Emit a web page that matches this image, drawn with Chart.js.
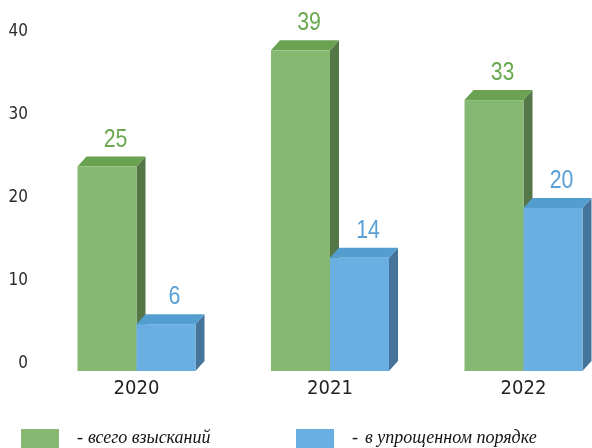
<!DOCTYPE html>
<html>
<head>
<meta charset="utf-8">
<script src="https://cdn.jsdelivr.net/npm/chart.js@4.4.1/dist/chart.umd.min.js"></script>
<style>
  body { margin: 0; background: #fff; }
</style>
</head>
<body>
<canvas id="myChart" width="592" height="448"></canvas>
<script>
// data
const years = ['2020', '2021', '2022']
const totalValues = [25, 39, 33]
const simpleValues = [6, 14, 20]
const seriesNames = ['всего взысканий', 'в упрощенном порядке']
const yTicks = [0, 10, 20, 30, 40]

const narrow = '"DejaVu Sans Condensed", "Liberation Sans", sans-serif'

// front / top / side colours for the fake 3d boxes
const faces = [
  { front: '#86b872', top: '#6aa251', side: '#557748', label: '#6aa84f' },
  { front: '#69afe1', top: '#539ed0', side: '#44749a', label: '#5aa0d6' }
]
const DX = 9   // depth, to the left
const DY = 10  // depth, downwards

const bars3d = {
  id: 'bars3d',
  afterDatasetsDraw(chart) {
    const ctx = chart.ctx
    chart.data.datasets.forEach((ds, di) => {
      const f = faces[di]
      chart.getDatasetMeta(di).data.forEach((bar, i) => {
        const { x, y, base, width } = bar.getProps(['x', 'y', 'base', 'width'], true)
        const l = x - width / 2
        const r = x + width / 2
        const floor = base + 7
        ctx.save()

        // side face
        ctx.fillStyle = f.side
        ctx.beginPath()
        ctx.moveTo(r - DX, y + DY)
        ctx.lineTo(r, y)
        ctx.lineTo(r, base - 3)
        ctx.lineTo(r - DX, floor)
        ctx.closePath()
        ctx.fill()

        // top face
        ctx.fillStyle = f.top
        ctx.beginPath()
        ctx.moveTo(l - DX, y + DY)
        ctx.lineTo(l, y)
        ctx.lineTo(r, y)
        ctx.lineTo(r - DX, y + DY)
        ctx.closePath()
        ctx.fill()

        // front face
        ctx.fillStyle = f.front
        ctx.fillRect(l - DX, y + DY, width, floor - y - DY)

        // value label, squeezed to look like a narrow face
        ctx.fillStyle = f.label
        ctx.font = '26px "Liberation Sans", Arial, sans-serif'
        ctx.textAlign = 'center'
        ctx.textBaseline = 'alphabetic'
        ctx.translate(x - 0.5, y - 10)
        ctx.scale(0.82, 1)
        ctx.fillText(String(ds.data[i].y), 0, 0)
        ctx.restore()
      })
    })
  }
}

// legend at the bottom, boxes partly cut off by the canvas edge
const legendBottom = {
  id: 'legendBottom',
  afterDraw(chart) {
    const ctx = chart.ctx
    const items = [
      { box: 21, dash: 77, text: 88 },
      { box: 296, dash: 352, text: 365 }
    ]
    ctx.save()
    items.forEach((it, i) => {
      ctx.fillStyle = faces[i].front
      ctx.fillRect(it.box, 429, 38, 22)
      ctx.fillStyle = '#151515'
      ctx.font = 'italic 18px "Liberation Serif", serif'
      ctx.textAlign = 'left'
      ctx.textBaseline = 'alphabetic'
      ctx.fillText('-', it.dash, 443)
      ctx.fillText(seriesNames[i], it.text, 443)
    })
    ctx.restore()
  }
}

new Chart(document.getElementById('myChart'), {
  type: 'bar',
  data: {
    datasets: [
      {
        label: seriesNames[0],
        data: totalValues.map((v, i) => ({ x: i, y: v })),
        backgroundColor: 'rgba(0,0,0,0)',
        barThickness: 59
      },
      {
        label: seriesNames[1],
        data: simpleValues.map((v, i) => ({ x: i, y: v })),
        backgroundColor: 'rgba(0,0,0,0)',
        barThickness: 59
      }
    ]
  },
  options: {
    responsive: false,
    animation: false,
    devicePixelRatio: 1,
    layout: { padding: { top: 32, left: 0, right: 0, bottom: 0 } },
    plugins: {
      legend: { display: false },
      tooltip: { enabled: false }
    },
    scales: {
      x: {
        type: 'linear',
        offset: false,
        min: -0.5,
        max: 2.3075,
        grid: { display: false, drawTicks: false, offset: false },
        border: { display: false },
        afterBuildTicks: scale => { scale.ticks = years.map((_, i) => ({ value: i })) },
        afterFit: scale => { scale.height = 84 },
        ticks: {
          padding: 13,
          labelOffset: -9,
          maxRotation: 0,
          autoSkip: false,
          color: '#222',
          font: { family: narrow, size: 20 },
          callback: v => years[v]
        }
      },
      y: {
        min: 0,
        max: 40,
        grid: { display: false, drawTicks: false },
        border: { display: false },
        afterBuildTicks: scale => { scale.ticks = yTicks.map(v => ({ value: v })) },
        afterFit: scale => { scale.width = 48.75 },
        ticks: {
          padding: 20.75,
          color: '#2b2b2b',
          font: { family: narrow, size: 17 }
        }
      }
    }
  },
  plugins: [bars3d, legendBottom]
})
</script>
</body>
</html>
